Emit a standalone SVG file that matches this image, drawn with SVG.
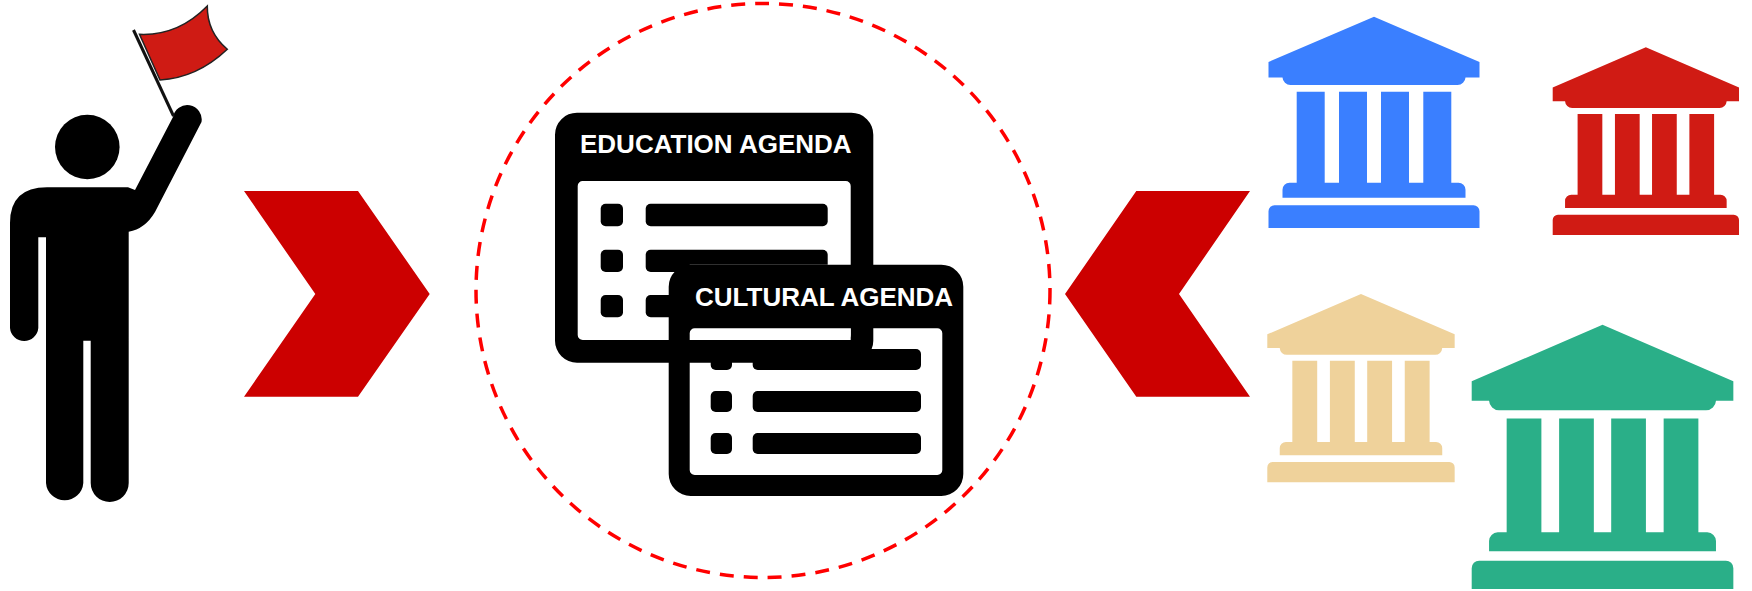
<svg xmlns="http://www.w3.org/2000/svg" width="1752" height="591" viewBox="0 0 1752 591">
<style>
.k{fill:#000}
.w{fill:#fff}
.chev{fill:#cc0000}
.lbl{font-family:"Liberation Sans",Arial,sans-serif;font-weight:700;font-size:26px;fill:#fff}
</style>
<defs>
<g id="temple">
<path d="M105.500,0 L211,45.300 V60.700 H197 A8,8 0 0 1 189,68.300 H22 A8,8 0 0 1 14,60.700 H0 V45.300 Z"/>
<path d="M28.200,75 H56.200 V166 H70.500 V75 H98.500 V166 H112.500 V75 H140.500 V166 H154.800 V75 H182.800 V166 H190 A7,7 0 0 1 197,173 V181 H14 V173 A7,7 0 0 1 21,166 H28.200 Z"/>
<path d="M6,188.600 H205 A6,6 0 0 1 211,194.600 V211.300 H0 V194.600 A6,6 0 0 1 6,188.600 Z"/>
</g>
</defs>
<rect width="1752" height="591" fill="#fff"/>
<g id="connectors">
<polygon id="chevron-right" class="chev" points="244,191 358,191 429.700,294 358,396.700 244,396.700 315.300,294"/>
<polygon id="chevron-left" class="chev" points="1250,191 1136.300,191 1065,294 1136.300,396.700 1250,396.700 1179,294"/>
</g>
<g id="person">
<circle class="k" cx="87.300" cy="147" r="32.300"/>
<path class="k" d="M47,187.300 H128 L135,190 L173,117 A14,14 0 0 1 201.500,122 L155,212 Q145,229 128.700,231.700 V483 A19,19 0 0 1 90.700,483 V340.700 H83.300 V483 A18.700,18.700 0 0 1 46,483 V237.300 H38.300 V328 A14.200,14.200 0 0 1 10,328 V223 Q10,187.300 47,187.300 Z"/>
<path d="M133.500,30 L173.500,116" stroke="#111" stroke-width="3" fill="none"/>
<path d="M139.500,34.300 Q178,36 207.300,6 Q207,32 227.300,49.300 Q197,78 160,80 Z" fill="#cf1b14" stroke="#222" stroke-width="1.500"/>
</g>
<g id="dashed-circle">
<circle cx="763" cy="290.500" r="287" fill="none" stroke="#ff0000" stroke-width="3.500" stroke-dasharray="14 10"/>
</g>
<g id="education-agenda">
<path class="k" fill-rule="evenodd" d="M577,112.700 H851.300 A22,22 0 0 1 873.300,134.700 V340.700 A22,22 0 0 1 851.300,362.700 H577 A22,22 0 0 1 555,340.700 V134.700 A22,22 0 0 1 577,112.700 Z M582.700,181 A5,5 0 0 0 577.700,186 V335 A5,5 0 0 0 582.700,340 H845.700 A5,5 0 0 0 850.700,335 V186 A5,5 0 0 0 845.700,181 Z"/>
<rect class="k" x="600.700" y="203.700" width="22.300" height="22.600" rx="5"/>
<rect class="k" x="600.700" y="249.700" width="22.300" height="22.300" rx="5"/>
<rect class="k" x="600.700" y="295" width="22.300" height="22.300" rx="5"/>
<rect class="k" x="645.700" y="203.700" width="182" height="22.600" rx="5"/>
<rect class="k" x="645.700" y="249.700" width="182" height="22.300" rx="5"/>
<rect class="k" x="645.700" y="295" width="182" height="22.300" rx="5"/>
<text class="lbl" x="580" y="153.300">EDUCATION AGENDA</text>
</g>
<g id="cultural-agenda">
<path class="w" d="M689.700,264.700 H850 V328 H689.700 Z"/>
<path class="w" d="M689.700,328.300 H850.700 V340 H689.700 Z"/>
<path class="k" fill-rule="evenodd" d="M690.700,264.700 H941.300 A22,22 0 0 1 963.300,286.700 V474 A22,22 0 0 1 941.300,496 H690.700 A22,22 0 0 1 668.700,474 V286.700 A22,22 0 0 1 690.700,264.700 Z M694.700,328.300 A5,5 0 0 0 689.700,333.300 V470 A5,5 0 0 0 694.700,475 H937.300 A5,5 0 0 0 942.300,470 V333.300 A5,5 0 0 0 937.300,328.300 Z"/>
<rect class="k" x="710.700" y="349" width="21.300" height="21" rx="5"/>
<rect class="k" x="710.700" y="391" width="21.300" height="21" rx="5"/>
<rect class="k" x="710.700" y="433" width="21.300" height="21" rx="5"/>
<rect class="k" x="752.700" y="349" width="168.300" height="21" rx="5"/>
<rect class="k" x="752.700" y="391" width="168.300" height="21" rx="5"/>
<rect class="k" x="752.700" y="433" width="168.300" height="21" rx="5"/>
<text class="lbl" x="695" y="305.700">CULTURAL AGENDA</text>
</g>
<g id="temple-blue" fill="#3a7fff"><use href="#temple" transform="translate(1268.500,16.700)"/></g>
<g id="temple-red" fill="#d01b14"><use href="#temple" transform="translate(1552.700,47.300) scale(0.883,0.888)"/></g>
<g id="temple-tan" fill="#efd29b"><use href="#temple" transform="translate(1267.300,294) scale(0.888,0.891)"/></g>
<g id="temple-green" fill="#2aaf88"><use href="#temple" transform="translate(1471.700,324.700) scale(1.240,1.251)"/></g>
</svg>
